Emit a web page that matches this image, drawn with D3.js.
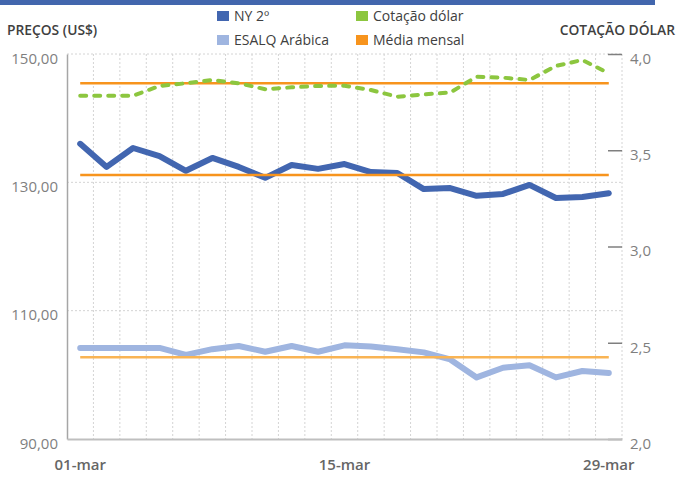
<!DOCTYPE html>
<html>
<head>
<meta charset="utf-8">
<script src="https://cdn.jsdelivr.net/npm/d3@7"></script>
<style>
  body { margin: 0; background: #fff; }
  text { font-family: 'Open Sans', 'Noto Sans', sans-serif; }
</style>
</head>
<body>
<svg id="chart"></svg>
<script>
const dates = ['01-mar', '04-mar', '05-mar', '06-mar', '07-mar', '08-mar', '11-mar',
  '12-mar', '13-mar', '14-mar', '15-mar', '18-mar', '19-mar', '20-mar', '21-mar',
  '22-mar', '25-mar', '26-mar', '27-mar', '28-mar', '29-mar'];

const ny2 = [136.0, 132.4, 135.35, 134.1, 131.8, 133.8, 132.4, 130.7, 132.7, 132.1, 132.85,
  131.6, 131.45, 128.95, 129.1, 127.9, 128.2, 129.6, 127.55, 127.7, 128.3];

const esalq = [104.2, 104.2, 104.2, 104.2, 103.1, 104.0, 104.5, 103.6, 104.5, 103.6, 104.6,
  104.4, 104.0, 103.5, 102.4, 99.6, 101.1, 101.5, 99.6, 100.6, 100.3];

const dolar = [3.783, 3.783, 3.783, 3.834, 3.848, 3.865, 3.848, 3.817, 3.827, 3.834, 3.835,
  3.813, 3.778, 3.79, 3.80, 3.882, 3.877, 3.865, 3.938, 3.969, 3.90];

// médias mensais
const mediaNy = 131.15;
const mediaEsalq = 102.75;
const mediaDolar = 3.848;

const leftTicks = [90, 110, 130, 150];
const rightTicks = [2.0, 2.5, 3.0, 3.5, 4.0];
const xLabels = ['01-mar', '15-mar', '29-mar'];

const w = 678, h = 477;
let svg = d3.select('#chart').attr('width', w).attr('height', h);

let plot = {left: 67, right: 622, top: 54, bottom: 439};

let locale = d3.formatLocale({decimal: ',', thousands: '.', grouping: [3], currency: ['US$', '']});

let xScale = d3.scaleBand().domain(dates).range([plot.left, plot.right]);
let xMid = d => xScale(d) + xScale.bandwidth() / 2;
let yLeft = d3.scaleLinear().domain([90, 150]).range([plot.bottom, plot.top]);
let yRight = d3.scaleLinear().domain([2, 4]).range([plot.bottom, plot.top]);

// faixa azul no topo
svg.append('rect')
  .attr('x', 0).attr('y', 0)
  .attr('width', 655).attr('height', 5)
  .attr('fill', '#4266ad');

// grade
let grid = svg.append('g').attr('class', 'grid');
grid.selectAll('.vgrid')
  .data(dates)
  .enter().append('line')
  .attr('x1', d => xScale(d) + xScale.bandwidth())
  .attr('x2', d => xScale(d) + xScale.bandwidth())
  .attr('y1', plot.top).attr('y2', plot.bottom)
  .attr('stroke', '#d4d4d4')
  .attr('stroke-dasharray', '2,2');

grid.selectAll('.hgrid')
  .data(leftTicks.slice(1))
  .enter().append('line')
  .attr('x1', plot.left).attr('x2', plot.right)
  .attr('y1', d => yLeft(d)).attr('y2', d => yLeft(d))
  .attr('stroke', '#d4d4d4')
  .attr('stroke-dasharray', '2,2');

// eixos
let axisLeft = svg.append('g')
  .attr('transform', `translate(${plot.left}, 0)`)
  .call(d3.axisLeft(yLeft).tickValues(leftTicks).tickSize(0).tickPadding(9)
    .tickFormat(locale.format('.2f')));
axisLeft.select('.domain').attr('stroke', '#a6a6a6').attr('stroke-width', 1.5);

let axisRight = svg.append('g')
  .attr('transform', `translate(${plot.right - 14}, 0)`)
  .call(d3.axisRight(yRight).tickValues(rightTicks).tickSize(14).tickPadding(8)
    .tickFormat(locale.format('.1f')));
axisRight.select('.domain').remove();
axisRight.selectAll('.tick line').attr('stroke', '#7f7f7f').attr('stroke-width', 1.5);

let axisBottom = svg.append('g')
  .attr('transform', `translate(0, ${plot.bottom})`)
  .call(d3.axisBottom(xScale).tickValues(xLabels).tickSize(0).tickPadding(20));
axisBottom.select('.domain').attr('stroke', '#bfbfbf').attr('stroke-width', 2);

[axisLeft, axisRight].forEach(a => a.selectAll('.tick text')
  .attr('dy', '0.62em')
  .attr('fill', '#7f7f7f')
  .style('font-size', '15px'));
axisBottom.selectAll('.tick text')
  .attr('fill', '#666')
  .style('font-size', '15px')
  .style('font-weight', 600);

// linhas
let lineLeft = d3.line()
  .x((d, i) => xMid(dates[i]))
  .y(d => yLeft(d));

let lineRight = d3.line()
  .x((d, i) => xMid(dates[i]))
  .y(d => yRight(d));

svg.append('path')
  .datum(ny2)
  .attr('d', lineLeft)
  .attr('fill', 'none')
  .attr('stroke', '#4266b0')
  .attr('stroke-width', 6)
  .attr('stroke-linejoin', 'round')
  .attr('stroke-linecap', 'round');

svg.append('path')
  .datum(esalq)
  .attr('d', lineLeft)
  .attr('fill', 'none')
  .attr('stroke', '#9fb5e0')
  .attr('stroke-width', 6)
  .attr('stroke-linejoin', 'round')
  .attr('stroke-linecap', 'round');

svg.append('path')
  .datum(dates.map(() => mediaNy))
  .attr('d', lineLeft)
  .attr('fill', 'none')
  .attr('stroke', '#f7941d')
  .attr('stroke-width', 2.5);

svg.append('path')
  .datum(dates.map(() => mediaEsalq))
  .attr('d', lineLeft)
  .attr('fill', 'none')
  .attr('stroke', '#f9b454')
  .attr('stroke-width', 2.5);

svg.append('path')
  .datum(dates.map(() => mediaDolar))
  .attr('d', lineRight)
  .attr('fill', 'none')
  .attr('stroke', '#f7941d')
  .attr('stroke-width', 2.5);

svg.append('path')
  .datum(dolar)
  .attr('d', lineRight)
  .attr('fill', 'none')
  .attr('stroke', '#8cc63f')
  .attr('stroke-width', 4)
  .attr('stroke-dasharray', '6,8')
  .attr('stroke-linejoin', 'round')
  .attr('stroke-linecap', 'round');

// títulos dos eixos
svg.append('text')
  .attr('x', 7).attr('y', 35)
  .attr('fill', '#404040')
  .style('font-size', '13.8px')
  .style('font-weight', 600)
  .text('PREÇOS (US$)');

svg.append('text')
  .attr('x', 675).attr('y', 35)
  .attr('text-anchor', 'end')
  .attr('fill', '#404040')
  .style('font-size', '13.8px')
  .style('font-weight', 600)
  .text('COTAÇÃO DÓLAR');

// legenda
let legendItems = [
  {label: 'NY 2º', color: '#4266b0', x: 217, y: 16},
  {label: 'Cotação dólar', color: '#8cc63f', x: 356, y: 16},
  {label: 'ESALQ Arábica', color: '#9fb5e0', x: 217, y: 40},
  {label: 'Média mensal', color: '#f7941d', x: 356, y: 40}
];

let legend = svg.append('g').attr('class', 'legend');
legendItems.forEach(function(d) {
  legend.append('rect')
    .attr('x', d.x).attr('y', d.y - 5)
    .attr('width', 12).attr('height', 10)
    .attr('fill', d.color);
  legend.append('text')
    .attr('x', d.x + 17).attr('y', d.y)
    .attr('dy', '0.35em')
    .attr('fill', '#404040')
    .style('font-size', '14px')
    .text(d.label);
});
</script>
</body>
</html>
